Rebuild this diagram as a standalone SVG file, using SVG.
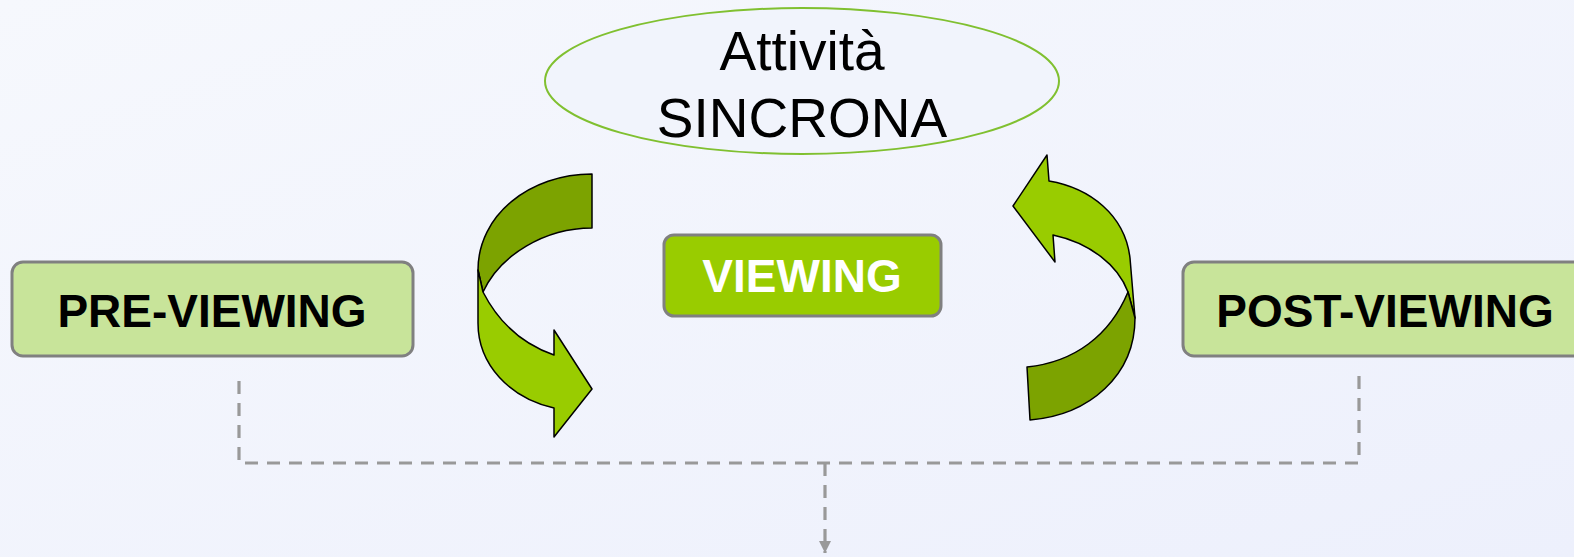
<svg xmlns="http://www.w3.org/2000/svg" width="1574" height="557" viewBox="0 0 1574 557">
<defs>
<linearGradient id="bg" x1="0" y1="0" x2="1" y2="1">
<stop offset="0" stop-color="#f6f8fd"/>
<stop offset="1" stop-color="#edf0fc"/>
</linearGradient>
<marker id="ah" viewBox="0 0 10 10" refX="10" refY="5" markerWidth="12" markerHeight="12" markerUnits="userSpaceOnUse" orient="auto">
<path d="M0,0 L10,5 L0,10 Z" fill="#999999"/>
</marker>
<style>
.box{stroke:#808080;stroke-width:3}
.lt{fill:#c8e49a}
.lbl{font-family:"Liberation Sans",Arial,sans-serif;font-weight:bold;font-size:46px;text-anchor:middle}
.big{font-family:"Liberation Sans",Arial,sans-serif;font-size:55px;text-anchor:middle;fill:#000}
.dash{fill:none;stroke:#999999;stroke-width:3.2;stroke-dasharray:13 9}
.a1{fill:#99cc00;stroke:#000;stroke-width:1.5;stroke-linejoin:round}
.a2{fill:#7ca300;stroke:#000;stroke-width:1.5;stroke-linejoin:round}
</style>
</defs>
<rect width="1574" height="557" fill="url(#bg)"/>
<g id="connectors">
<path class="dash" d="M239,381 L239,463 L1359,463 L1359,370"/>
<path class="dash" d="M825,463 L825,553" marker-end="url(#ah)"/>
</g>
<g id="sincrona">
<ellipse cx="802" cy="81" rx="257" ry="73" fill="#f1f4fc" stroke="#80c030" stroke-width="2"/>
<text class="big" x="802" y="70">Attività</text>
<text class="big" x="802" y="137">SINCRONA</text>
</g>
<g id="arrow-left">
<path class="a2" d="M592,174 L592,228 C545,228 500,255 483,292 L478,270 C478,215 530,174 592,174 Z"/>
<path class="a1" d="M478,270 L483,292 C500,325 525,345 554,355 L554,330 L592,389 L554,437 L554,408 C510,398 478,365 478,323 Z"/>
</g>
<g id="arrow-right">
<path class="a1" d="M1049,181 L1047,155 L1013,206 L1055,262 L1053,235 C1090,243 1118,265 1128,292 L1135,318 L1130,258 C1125,215 1090,188 1049,181 Z"/>
<path class="a2" d="M1128,292 L1135,318 C1135,375 1090,415 1030,420 L1027,367 C1075,362 1110,335 1128,292 Z"/>
</g>
<g id="pre-viewing">
<rect class="box lt" x="12" y="262" width="401" height="94" rx="11"/>
<text class="lbl" x="212" y="327" fill="#000">PRE-VIEWING</text>
</g>
<g id="viewing">
<rect class="box" x="664" y="235" width="277" height="81" rx="10" fill="#99cc00"/>
<text class="lbl" x="802" y="292" fill="#fff">VIEWING</text>
</g>
<g id="post-viewing">
<rect class="box lt" x="1183" y="262" width="401" height="94" rx="11"/>
<text class="lbl" x="1385" y="327" fill="#000">POST-VIEWING</text>
</g>
</svg>
